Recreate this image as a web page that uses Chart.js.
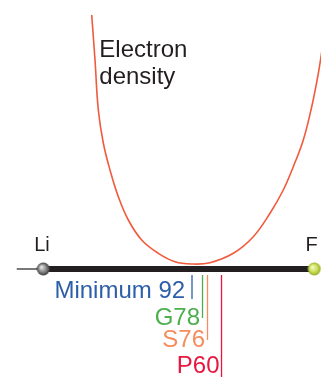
<!DOCTYPE html>
<html>
<head>
<meta charset="utf-8">
<script src="https://cdn.jsdelivr.net/npm/chart.js@4/dist/chart.umd.min.js"></script>
<style>
html,body{margin:0;padding:0;background:#fff;}
#wrap{width:321px;height:377px;position:relative;}
</style>
</head>
<body>
<div id="wrap"><canvas id="c"></canvas></div>
<script>
// Position along the Li–F bond (Li = 0, F = 100), electron density in arbitrary units (bond axis = 0)
const curveX = [17.86, 19.08, 20.30, 22.14, 24.61, 27.68, 31.37, 36.31, 42.44, 48.60, 54.76, 61.51, 70.11, 77.49, 83.65, 88.56, 92.25, 95.94, 99.04, 101.48, 103.4];
const curveY = [254, 209, 159, 126, 99, 72.3, 49, 29, 15.7, 7.3, 5, 6.3, 15.7, 32.3, 55.7, 79, 102.3, 129, 162.3, 195.7, 229];

const atomNames = ['Li', 'F'];
const atomPos = [0, 100];
const atomLabelX = [-0.5, 99];
const leadStart = -9.8;

const markerLabels = ['Minimum 92', 'G78', 'S76', 'P60'];
const markerPos = [54.87, 58.75, 60.59, 65.76];
const markerTop = -6;
const markerBottom = [-30, -49, -71, -112];
const markerLabelX = [52.33, 57.82, 59.67, 65.02];
const markerLabelY = [-29, -56, -78, -104];
const markerColors = ['#2d5fa9', '#4cae4c', '#f58d5e', '#e8173f'];

const titleLines = ['Electron', 'density'];
const titleX = 20.66;
const titleY = [212, 185];

const atomColors = [['#e6e6e6', '#8a8a8a', '#3a3a3a'], ['#f4f9c8', '#cbe05a', '#98ae2a']];

function ballImage(cols) {
  const r = 6.5, s = 14;
  const cv = document.createElement('canvas');
  cv.width = s; cv.height = s;
  const g = cv.getContext('2d');
  const grad = g.createRadialGradient(s/2 - 2, s/2 - 2, 0.5, s/2, s/2, r);
  grad.addColorStop(0, cols[0]);
  grad.addColorStop(0.55, cols[1]);
  grad.addColorStop(1, cols[2]);
  g.fillStyle = grad;
  g.beginPath(); g.arc(s/2, s/2, r, 0, Math.PI*2); g.fill();
  return cv;
}

const datasets = [];
datasets.push({
  data: curveX.map((x, i) => ({x: x, y: curveY[i]})),
  showLine: true, borderColor: '#f15a3c', borderWidth: 1.6, pointRadius: 0,
  tension: 0.4, order: 5
});
datasets.push({
  data: [{x: leadStart, y: 0}, {x: atomPos[0], y: 0}],
  showLine: true, borderColor: '#231f20', borderWidth: 1.2, pointRadius: 0, order: 4
});
datasets.push({
  data: [{x: atomPos[0], y: 0}, {x: atomPos[1], y: 0}],
  showLine: true, borderColor: '#231f20', borderWidth: 6, pointRadius: 0, order: 3
});
markerPos.forEach((p, i) => {
  datasets.push({
    data: [{x: p, y: markerTop}, {x: p, y: markerBottom[i]}],
    showLine: true, borderColor: markerColors[i], borderWidth: 1.3, pointRadius: 0, order: 2
  });
});
atomPos.forEach((p, i) => {
  datasets.push({
    data: [{x: p, y: 0}],
    showLine: false, pointStyle: ballImage(atomColors[i]), pointRadius: 7, order: 0
  });
});

const textPlugin = {
  id: 'texts',
  afterDatasetsDraw(chart) {
    const {ctx, scales: {x, y}} = chart;
    ctx.save();
    ctx.textBaseline = 'alphabetic';
    ctx.fillStyle = '#231f20';
    ctx.font = '24px "Liberation Sans", Arial, sans-serif';
    ctx.textAlign = 'left';
    titleLines.forEach((t, i) => ctx.fillText(t, x.getPixelForValue(titleX), y.getPixelForValue(titleY[i])));
    ctx.font = '20px "Liberation Sans", Arial, sans-serif';
    ctx.textAlign = 'center';
    atomNames.forEach((t, i) => ctx.fillText(t, x.getPixelForValue(atomLabelX[i]), y.getPixelForValue(18)));
    ctx.font = '24px "Liberation Sans", Arial, sans-serif';
    ctx.textAlign = 'right';
    markerLabels.forEach((t, i) => {
      ctx.fillStyle = markerColors[i];
      ctx.fillText(t, x.getPixelForValue(markerLabelX[i]), y.getPixelForValue(markerLabelY[i]));
    });
    ctx.restore();
  }
};

new Chart(document.getElementById('c'), {
  type: 'scatter',
  data: {datasets},
  options: {
    responsive: true, maintainAspectRatio: false, animation: false,
    layout: {padding: 0, autoPadding: false},
    plugins: {legend: {display: false}, tooltip: {enabled: false}, title: {display: false}},
    scales: {
      x: {type: 'linear', display: false, min: -15.98, max: 102.47},
      y: {type: 'linear', display: false, min: -108, max: 269}
    }
  },
  plugins: [textPlugin]
});
</script>
</body>
</html>
